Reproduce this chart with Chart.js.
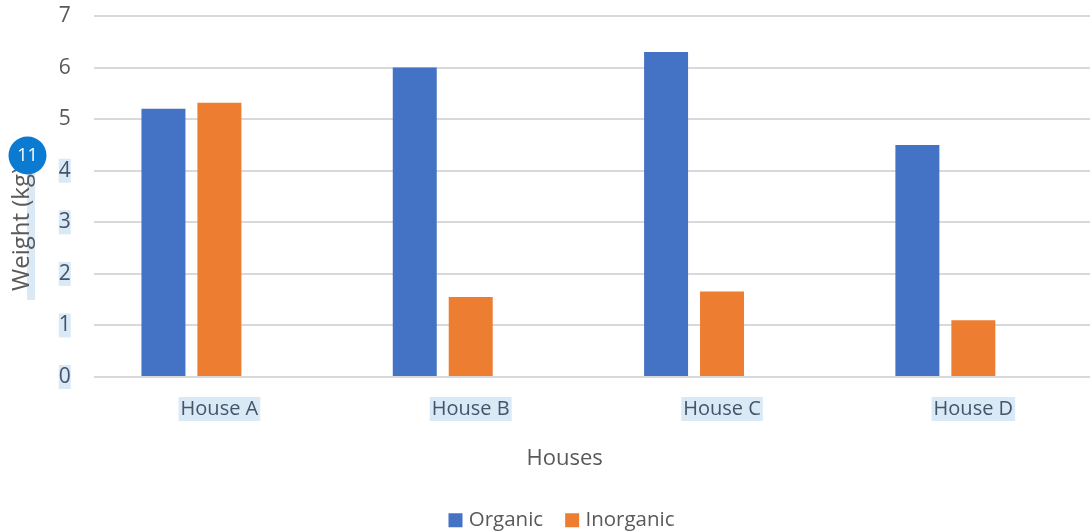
<!DOCTYPE html>
<html>
<head>
<meta charset="utf-8">
<title>Waste weight by house</title>
<script src="https://cdn.jsdelivr.net/npm/chart.js@4"></script>
<style>
  html, body { margin: 0; padding: 0; background: #fff; overflow: hidden; }
  #wrap { position: relative; width: 1127px; height: 531px; }
</style>
</head>
<body>
<div id="wrap"><canvas id="myChart" width="1127" height="531"></canvas></div>
<script>
const houses = ["House A", "House B", "House C", "House D"];
const organic = [5.2, 6.0, 6.3, 4.5];
const inorganic = [5.32, 1.55, 1.66, 1.1];
const unused = [null, null, null, null]; // empty third series keeps the bars left of each label

const textColor = "#595959";
const highlight = "#DAE9F6";
const fontName = "'Open Sans', sans-serif";

// Selection strip, axis titles and the count badge
const extras = {
  id: "extras",
  beforeDraw(chart) {
    const c = chart.ctx;
    c.fillStyle = highlight;
    c.fillRect(27, 172, 8, 128);
  },
  afterDraw(chart) {
    const c = chart.ctx;
    c.save();
    c.fillStyle = textColor;
    c.font = "22px " + fontName;
    c.textAlign = "center";
    c.textBaseline = "alphabetic";
    c.fillText("Houses", 564.7, 465);

    c.save();
    c.translate(28.5, 291);
    c.rotate(-Math.PI / 2);
    c.textAlign = "left";
    c.font = "24px " + fontName;
    c.fillText("Weight (kg)", 0, 0);
    c.restore();

    c.fillStyle = "#0B7AD1";
    c.beginPath();
    c.arc(27.5, 155.5, 19, 0, Math.PI * 2);
    c.fill();
    c.fillStyle = "#fff";
    c.font = "18px " + fontName;
    c.textBaseline = "middle";
    c.fillText("11", 27.5, 156);
    c.restore();
  }
};

const ctx = document.getElementById("myChart").getContext("2d");
new Chart(ctx, {
  type: "bar",
  data: {
    labels: houses,
    datasets: [
      { label: "Organic", data: organic, backgroundColor: "#4472C4" },
      { label: "Inorganic", data: inorganic, backgroundColor: "#ED7D31" },
      { label: "", data: unused, backgroundColor: "#A5A5A5" }
    ]
  },
  options: {
    responsive: false,
    animation: false,
    categoryPercentage: 0.668,
    barPercentage: 0.786,
    layout: { padding: { top: 0, left: 0, right: 0, bottom: -9.5 } },
    scales: {
      x: {
        grid: { display: false },
        border: { display: false },
        ticks: {
          color: "#44546A",
          font: { family: fontName, size: 20, lineHeight: 1.2 },
          padding: 12,
          showLabelBackdrop: true,
          backdropColor: highlight,
          backdropPadding: { x: 2, y: 0 }
        },
        afterFit(scale) {
          scale.height = 107;
          scale.paddingRight = 28;
        }
      },
      y: {
        min: 0,
        max: 7,
        grid: { color: "#D9D9D9", lineWidth: 2, drawTicks: false },
        border: { display: false },
        ticks: {
          stepSize: 1,
          color: (c) => (c.tick.value <= 4 ? "#44546A" : textColor),
          font: { family: fontName, size: 21, lineHeight: 1.143 },
          padding: 23,
          showLabelBackdrop: true,
          backdropColor: (c) => (c.tick.value <= 4 ? highlight : "rgba(0,0,0,0)"),
          backdropPadding: 0
        },
        afterFit(scale) {
          scale.width = 93.75;
          scale.paddingTop = 16;
          scale.paddingBottom = 0;
        }
      }
    },
    plugins: {
      tooltip: { enabled: false },
      legend: {
        position: "bottom",
        labels: {
          color: textColor,
          font: { family: fontName, size: 20.5 },
          usePointStyle: true,
          pointStyle: "rect",
          boxWidth: 6,
          boxHeight: 14,
          padding: 26,
          filter: (item) => item.text !== ""
        }
      }
    }
  },
  plugins: [extras]
});
</script>
</body>
</html>
